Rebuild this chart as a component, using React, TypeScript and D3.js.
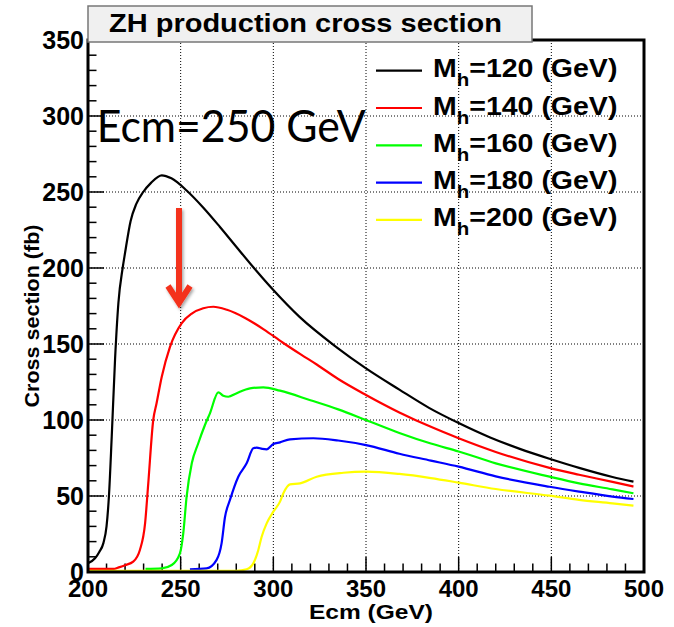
import React from "react";
import * as d3 from "d3";

// cross section curves: [Ecm (GeV), sigma (fb)]
const mh120: [number, number][] = [
  [200, 5.7], [203.8, 9], [206, 13], [208.3, 19], [210, 30], [211.3, 50], [212.8, 89],
  [214.6, 140], [216.4, 177], [218.7, 200], [220, 210], [223, 231], [226, 242],
  [229.8, 250], [234, 256], [239.8, 261], [245, 259], [253.2, 251], [262, 240],
  [271.2, 227], [280, 214], [289.2, 200.5], [300, 185.5], [314, 168], [334, 148],
  [350, 134], [368, 120], [384, 108], [400, 98], [417, 88.5], [433, 81],
  [449, 74.5], [465, 68.5], [483, 62.5], [494.3, 59.4],
];
const mh140: [number, number][] = [
  [200, 2], [214, 2], [216, 2.8], [220, 4.5], [224.4, 6.8], [228, 14.5], [230.8, 32],
  [232.5, 58], [235.2, 100], [237, 111], [239.8, 128.5], [244.2, 148], [250.5, 163.6],
  [256, 170], [262.2, 173.5], [267.6, 174.5], [275, 172.5], [285, 167], [295, 159.5],
  [305, 151], [315, 143], [323.4, 136.5], [335, 127], [350, 116.5], [368, 105],
  [385, 95.5], [400, 88], [420, 79], [449, 68.5], [465, 64], [483, 59.3], [494.3, 56.2],
];
const mh160: [number, number][] = [
  [231, 2], [239.8, 2.4], [245.2, 4.6], [249.6, 12.3], [251.4, 25.4], [253.2, 49.5],
  [256, 71.5], [259.5, 84.7], [263.1, 96.7], [265.8, 104.4], [270.3, 118.2], [273, 116],
  [275.7, 115.3], [280, 117.5], [287.4, 120.8], [294.6, 121.5], [303.6, 119.3],
  [320, 113], [335, 107], [350, 100], [368, 91.5], [385, 84.5], [400, 79.3],
  [420, 71.5], [449, 62.7], [465, 58.3], [483, 54.4], [494.3, 51.8],
];
const mh180: [number, number][] = [
  [255, 1.8], [264, 2.4], [269.4, 8], [272.1, 19], [273.9, 36], [276.6, 47.4],
  [281.1, 62.7], [285.6, 71.5], [289.2, 81.4], [291, 81.8], [294, 81], [296.4, 80.7],
  [300, 84.2], [303.6, 85.3], [309, 87.3], [321.6, 88], [335, 86.5], [350, 83.5],
  [368, 77.8], [385, 73.3], [400, 69.3], [420, 62.9], [449, 56.1],
  [465, 52.9], [483, 49.6], [494.3, 48],
];
const mh200: [number, number][] = [
  [200, 0.8], [280, 0.8], [285.6, 1.8], [289.2, 5.7], [291.9, 14.5], [293.7, 23.2],
  [296.4, 32], [300, 39.7], [303.6, 46.3], [305.4, 51.8], [309, 57.7], [314.4, 58.3],
  [323.4, 62.7], [337.8, 65.3], [350, 66], [368, 64.5], [385, 61.8],
  [400, 58.8], [420, 54.6], [449, 50.2], [465, 47.5], [483, 45.2], [494.3, 43.6],
];

const seriesData = [mh120, mh140, mh160, mh180, mh200];
const seriesMass = ["120", "140", "160", "180", "200"];
const seriesColor = ["#000000", "#ff0000", "#00ff00", "#0000ff", "#ffff00"];

const xTicks = [200, 250, 300, 350, 400, 450, 500];
const yTicks = [0, 50, 100, 150, 200, 250, 300, 350];

const W = 674;
const H = 627;
const left = 88, right = 644, top = 40, bottom = 572;
const helv = "'Liberation Sans', Arial, sans-serif";

export default function App() {
  const x = d3.scaleLinear().domain([200, 500]).range([left, right]);
  const y = d3.scaleLinear().domain([0, 350]).range([bottom, top]);

  const line = d3
    .line<[number, number]>()
    .x((d) => x(d[0]))
    .y((d) => y(d[1]))
    .curve(d3.curveMonotoneX);

  const xMinor = d3.range(200, 501, 10);
  const yMinor = d3.range(0, 351, 10);

  return (
    <svg
      width={W}
      height={H}
      style={{ position: "fixed", left: 0, top: 0, background: "#fff" }}
    >
      <defs>
        <filter id="shadow" x="-50%" y="-20%" width="200%" height="150%">
          <feDropShadow dx="1.5" dy="2" stdDeviation="1.5" floodColor="#000" floodOpacity="0.35" />
        </filter>
      </defs>

      {/* dotted grid */}
      {xTicks.slice(1, -1).map((t) => (
        <line key={"gx" + t} x1={x(t)} x2={x(t)} y1={top} y2={bottom}
          stroke="#000" strokeWidth={1} strokeDasharray="1 2" />
      ))}
      {yTicks.slice(1, -1).map((t) => (
        <line key={"gy" + t} x1={left} x2={right} y1={y(t)} y2={y(t)}
          stroke="#000" strokeWidth={1} strokeDasharray="1 2" />
      ))}

      {/* ticks */}
      {yMinor.map((t) => (
        <line key={"ty" + t} x1={left} x2={left + (t % 50 === 0 ? 16 : 8.5)}
          y1={y(t)} y2={y(t)} stroke="#000" strokeWidth={1.5} />
      ))}
      {xMinor.map((t) => (
        <line key={"tx" + t} x1={x(t)} x2={x(t)} y1={bottom}
          y2={bottom - (t % 50 === 0 ? 15 : 8.5)} stroke="#000" strokeWidth={1.5} />
      ))}

      {/* curves */}
      {seriesData.map((d, i) => (
        <path key={"c" + i} d={line(d) ?? ""} fill="none"
          stroke={seriesColor[i]} strokeWidth={2.2} />
      ))}

      {/* frame */}
      <rect x={left} y={top} width={right - left} height={bottom - top}
        fill="none" stroke="#000" strokeWidth={3} />

      {/* title box */}
      <rect x={88} y={6} width={444} height={36} fill="#f0f0f0" stroke="#777" strokeWidth={1.5} />
      <text x={305.5} y={32} textAnchor="middle" fontFamily={helv} fontWeight="bold"
        fontSize={25} textLength={393} lengthAdjust="spacingAndGlyphs">
        ZH production cross section
      </text>

      {/* tick labels */}
      {yTicks.map((t) => (
        <text key={"ly" + t} x={84} y={y(t)} dy="0.36em" textAnchor="end"
          fontFamily={helv} fontWeight="bold" fontSize={25}>
          {t}
        </text>
      ))}
      {xTicks.map((t) => (
        <text key={"lx" + t} x={x(t)} y={597} textAnchor="middle"
          fontFamily={helv} fontWeight="bold" fontSize={24}>
          {t}
        </text>
      ))}

      {/* axis titles */}
      <text x={371} y={619} textAnchor="middle" fontFamily={helv} fontWeight="bold"
        fontSize={21} textLength={124} lengthAdjust="spacingAndGlyphs">
        Ecm (GeV)
      </text>
      <text transform="translate(39,316) rotate(-90)" textAnchor="middle"
        fontFamily={helv} fontWeight="bold" fontSize={21}
        textLength={183} lengthAdjust="spacingAndGlyphs">
        Cross section (fb)
      </text>

      {/* legend */}
      {seriesMass.map((m, i) => {
        const ly = 70.7 + i * 37.3;
        return (
          <g key={"lg" + m}>
            <line x1={376} x2={422} y1={ly} y2={ly} stroke={seriesColor[i]} strokeWidth={2.2} />
            <g transform={`translate(433,${ly + 6.5}) scale(1.14,1)`}>
              <text x={0} y={0} fontFamily={helv} fontWeight="bold" fontSize={25}>
                M
                <tspan fontSize={18} dy={9}>h</tspan>
                <tspan dy={-9}>={m} (GeV)</tspan>
              </text>
            </g>
          </g>
        );
      })}

      {/* annotation */}
      <text x={96.7} y={141.7} fontFamily="Lato, 'Open Sans', sans-serif" fontSize={44}
        textLength={269} lengthAdjust="spacingAndGlyphs">
        Ecm=250 GeV
      </text>

      {/* arrow */}
      <g filter="url(#shadow)" stroke="#f4321c" strokeWidth={6} fill="none">
        <line x1={179} x2={179} y1={208} y2={300} />
        <polyline points="168,286 179,303 190,286" strokeLinejoin="miter" />
      </g>
    </svg>
  );
}
